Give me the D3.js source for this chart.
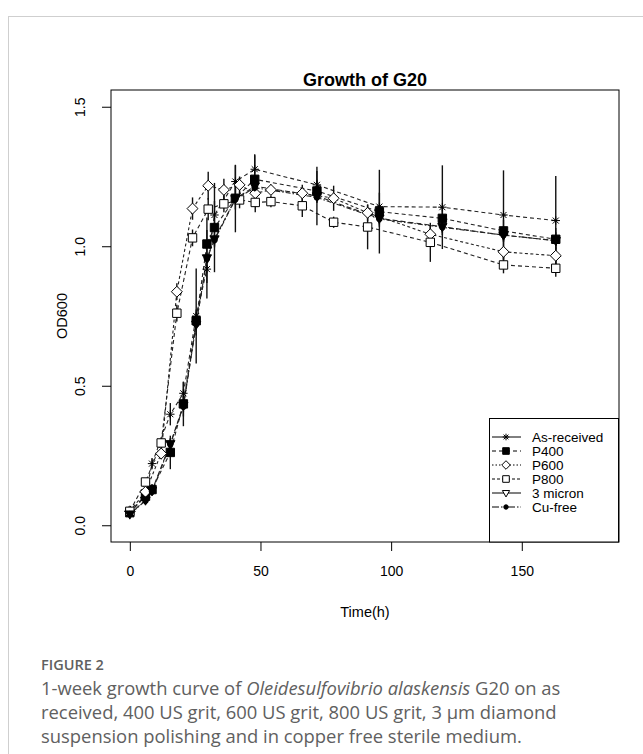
<!DOCTYPE html>
<html>
<head>
<meta charset="utf-8">
<script src="https://cdn.jsdelivr.net/npm/d3@7"></script>
<style>
  body { margin: 0; background: #fff; }
</style>
</head>
<body>
<div id="root"></div>
<script>
// sampling times (h): P600 / P800 were read on one schedule, the rest on another
const timesA = [0, 6, 12, 18, 24, 30, 36, 42, 48, 54, 66, 78, 91, 115, 143, 163];
const timesB = [0, 6, 8.5, 15.5, 20.5, 25.4, 29.5, 32.4, 40.4, 47.8, 71.6, 95.5, 119.6, 143, 163];

// OD600 means and error bars
const asReceived    = [0.045, 0.11, 0.221, 0.398, 0.473, 0.75, 0.918, 1.112, 1.232, 1.276, 1.22, 1.142, 1.14, 1.112, 1.092];
const asReceivedErr = [0.01, 0.02, 0.02, 0.04, 0.04, 0.17, 0.05, 0.05, 0.06, 0.05, 0.05, 0.05, 0.15, 0.16, 0.16];
const p400          = [0.045, 0.104, 0.128, 0.261, 0.435, 0.733, 1.008, 1.067, 1.172, 1.24, 1.198, 1.124, 1.1, 1.055, 1.025];
const p400Err       = [0.01, 0.01, 0.02, 0.06, 0.08, 0.04, 0.05, 0.16, 0.04, 0.09, 0.04, 0.15, 0.04, 0.04, 0.04];
const p600          = [0.05, 0.12, 0.257, 0.837, 1.135, 1.217, 1.202, 1.22, 1.19, 1.202, 1.19, 1.172, 1.12, 1.043, 0.98, 0.966];
const p600Err       = [0.01, 0.01, 0.02, 0.03, 0.04, 0.05, 0.04, 0.03, 0.03, 0.02, 0.03, 0.045, 0.03, 0.03, 0.03, 0.03];
const p800          = [0.05, 0.155, 0.295, 0.76, 1.03, 1.133, 1.152, 1.166, 1.157, 1.16, 1.145, 1.086, 1.069, 1.014, 0.933, 0.921];
const p800Err       = [0.01, 0.01, 0.02, 0.03, 0.03, 0.04, 0.03, 0.03, 0.035, 0.02, 0.04, 0.02, 0.08, 0.07, 0.03, 0.03];
const micron3       = [0.04, 0.09, 0.125, 0.292, 0.43, 0.72, 0.958, 1.026, 1.17, 1.215, 1.18, 1.1, 1.07, 1.04, 1.02];
const micron3Err    = [0.01, 0.01, 0.02, 0.02, 0.04, 0.04, 0.145, 0.03, 0.12, 0.04, 0.105, 0.03, 0.03, 0.03, 0.03];
const cuFree        = [0.04, 0.088, 0.12, 0.29, 0.425, 0.72, 0.955, 1.022, 1.168, 1.21, 1.175, 1.098, 1.068, 1.04, 1.02];
const cuFreeErr     = [0.01, 0.01, 0.01, 0.02, 0.02, 0.02, 0.02, 0.02, 0.02, 0.02, 0.02, 0.02, 0.02, 0.02, 0.02];

const xTicks = [0, 50, 100, 150];
const yTicks = [0, 0.5, 1.0, 1.5];

const series = [
  { name: "As-received", t: timesB, v: asReceived, e: asReceivedErr, shape: "star",    fill: "none",  dash: "4,3",     legendDash: null },
  { name: "P400",        t: timesB, v: p400,       e: p400Err,       shape: "square",  fill: "#000",  dash: "4,3",     legendDash: "4,3" },
  { name: "P600",        t: timesA, v: p600,       e: p600Err,       shape: "diamond", fill: "#fff",  dash: "3,2.5",   legendDash: "1.5,2" },
  { name: "P800",        t: timesA, v: p800,       e: p800Err,       shape: "box",     fill: "#fff",  dash: "4,3",     legendDash: "3,2" },
  { name: "3 micron",    t: timesB, v: micron3,    e: micron3Err,    shape: "tri",     fill: "#000",  dash: "5,3",     legendDash: null },
  { name: "Cu-free",     t: timesB, v: cuFree,     e: cuFreeErr,     shape: "dot",     fill: "#000",  dash: "1.5,2,5,2", legendDash: "7,2,1.5,2,1.5,2" }
];

const width = 643;
const height = 754;

const svg = d3.select("#root")
  .append("svg")
  .attr("width", width)
  .attr("height", height)
  .style("font-family", "'Liberation Sans', Arial, sans-serif");

// journal figure panel frame
svg.append("rect")
  .attr("x", 8.5).attr("y", 16.5)
  .attr("width", 700).attr("height", 800)
  .attr("fill", "none")
  .attr("stroke", "#cfcfcf");

const x = d3.scaleLinear().domain([-7.2, 187.2]).range([111, 619]);
const y = d3.scaleLinear().domain([-0.06, 1.56]).range([542, 90]);

svg.append("text")
  .attr("x", 365).attr("y", 86)
  .attr("text-anchor", "middle")
  .attr("font-size", 18)
  .attr("font-weight", "bold")
  .text("Growth of G20");

// axes
const yAxis = svg.append("g")
  .attr("transform", "translate(111,0)")
  .call(d3.axisLeft(y).tickValues(yTicks).tickFormat(d3.format(".1f")).tickSize(9));
yAxis.select(".domain").remove();
yAxis.selectAll("text")
  .attr("font-size", 14)
  .attr("font-family", "'Liberation Sans', Arial, sans-serif")
  .attr("fill", "#000")
  .attr("transform", "rotate(-90)")
  .attr("text-anchor", "middle")
  .attr("x", 0)
  .attr("y", -26)
  .attr("dy", 0);

const xAxis = svg.append("g")
  .attr("transform", "translate(0,542)")
  .call(d3.axisBottom(x).tickValues(xTicks).tickSize(9));
xAxis.select(".domain").remove();
xAxis.selectAll("text")
  .attr("font-size", 14)
  .attr("font-family", "'Liberation Sans', Arial, sans-serif")
  .attr("fill", "#000")
  .attr("y", 24);

svg.selectAll(".tick line").attr("stroke", "#000");

svg.append("rect")
  .attr("x", x.range()[0]).attr("y", y.range()[1])
  .attr("width", x.range()[1] - x.range()[0])
  .attr("height", y.range()[0] - y.range()[1])
  .attr("fill", "none")
  .attr("stroke", "#000");

svg.append("text")
  .attr("x", 365).attr("y", 617)
  .attr("text-anchor", "middle")
  .attr("font-size", 14.5)
  .text("Time(h)");

svg.append("text")
  .attr("transform", "translate(67,316) rotate(-90)")
  .attr("text-anchor", "middle")
  .attr("font-size", 14.5)
  .text("OD600");

function marker(shape, r) {
  if (shape === "star") {
    const d = r * 0.72;
    return `M${-r},0H${r}M0,${-r}V${r}M${-d},${-d}L${d},${d}M${-d},${d}L${d},${-d}`;
  }
  if (shape === "square" || shape === "box") return `M${-r},${-r}H${r}V${r}H${-r}Z`;
  if (shape === "diamond") return `M0,${-r * 1.3}L${r * 1.3},0L0,${r * 1.3}L${-r * 1.3},0Z`;
  if (shape === "tri") return `M${-r * 1.1},${-r * 0.75}H${r * 1.1}L0,${r * 1.2}Z`;
  return d3.symbol(d3.symbolCircle, Math.PI * r * r * 0.45)();
}

const line = d3.line().x(d => x(d[0])).y(d => y(d[1]));
const plot = svg.append("g");

series.forEach(s => {
  const pts = s.t.map((t, i) => [t, s.v[i], s.e[i]]);
  plot.append("path")
    .datum(pts)
    .attr("d", line)
    .attr("fill", "none")
    .attr("stroke", "#222")
    .attr("stroke-width", 1.1)
    .attr("stroke-dasharray", s.dash);
});

series.forEach(s => {
  const pts = s.t.map((t, i) => [t, s.v[i], s.e[i]]);
  plot.append("g")
    .selectAll("line")
    .data(pts)
    .join("line")
      .attr("x1", d => x(d[0])).attr("x2", d => x(d[0]))
      .attr("y1", d => y(d[1] - d[2])).attr("y2", d => y(d[1] + d[2]))
      .attr("stroke", "#111")
      .attr("stroke-width", 1.4);
});

series.forEach(s => {
  const pts = s.t.map((t, i) => [t, s.v[i]]);
  plot.append("g")
    .selectAll("path")
    .data(pts)
    .join("path")
      .attr("transform", d => `translate(${x(d[0])},${y(d[1])})`)
      .attr("d", marker(s.shape, 4.2))
      .attr("fill", s.fill)
      .attr("stroke", "#000")
      .attr("stroke-width", 1);
});

// legend (bottom right, inside the box)
const legend = svg.append("g");
legend.append("rect")
  .attr("x", 489.5).attr("y", 418.5)
  .attr("width", 129).attr("height", 123.5)
  .attr("fill", "#fff")
  .attr("stroke", "#000");

series.forEach((s, i) => {
  const ly = 437 + i * 14;
  legend.append("line")
    .attr("x1", 492).attr("x2", 521)
    .attr("y1", ly).attr("y2", ly)
    .attr("stroke", "#000")
    .attr("stroke-width", 1)
    .attr("stroke-dasharray", s.legendDash);
  legend.append("path")
    .attr("transform", `translate(506,${ly})`)
    .attr("d", marker(s.shape, 3.3))
    .attr("fill", s.shape === "tri" ? "#fff" : s.fill)
    .attr("stroke", "#000");
  legend.append("text")
    .attr("x", 532).attr("y", ly + 5)
    .attr("font-size", 13.5)
    .text(s.name);
});

// caption
const cap = svg.append("g")
  .style("font-family", "'Open Sans', 'Noto Sans', sans-serif")
  .attr("fill", "#606060");

cap.append("text")
  .attr("x", 41).attr("y", 670)
  .attr("font-size", 14.5)
  .attr("font-weight", 600)
  .text("FIGURE 2");

const l1 = cap.append("text").attr("x", 41).attr("y", 695).attr("font-size", 18.4);
l1.append("tspan").text("1-week growth curve of ");
l1.append("tspan").attr("font-style", "italic").text("Oleidesulfovibrio alaskensis");
l1.append("tspan").text(" G20 on as");

cap.append("text").attr("x", 41).attr("y", 719).attr("font-size", 18.4)
  .text("received, 400 US grit, 600 US grit, 800 US grit, 3 \u03bcm diamond");
cap.append("text").attr("x", 41).attr("y", 743).attr("font-size", 18.4)
  .text("suspension polishing and in copper free sterile medium.");
</script>
</body>
</html>
